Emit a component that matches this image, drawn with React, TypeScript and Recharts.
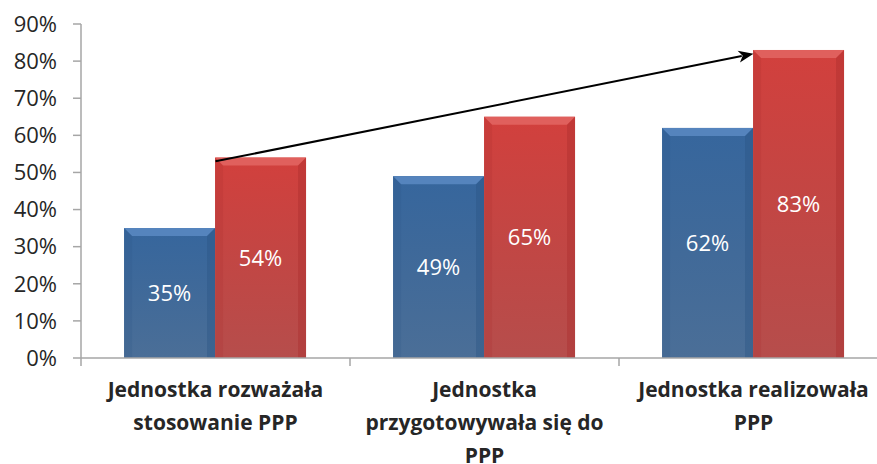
import React from "react";
import {
  BarChart,
  Bar,
  XAxis,
  YAxis,
  LabelList,
  ReferenceLine,
} from "recharts";

// categories (line breaks as in the original)
const categories = [
  "Jednostka rozważała\nstosowanie PPP",
  "Jednostka\nprzygotowywała się do\nPPP",
  "Jednostka realizowała\nPPP",
];
const blueValues = [35, 49, 62];
const redValues = [54, 65, 83];
const yTicks = [0, 10, 20, 30, 40, 50, 60, 70, 80, 90];
// arrow: from the first red bar to the last one (y in %)
const arrowFrom = 53;
const arrowTo = 82;

const data = categories.map((name, i) => ({
  name,
  blue: blueValues[i],
  red: redValues[i],
}));

const CHART_W = 900;
const CHART_H = 464;
const MARGIN = { top: 24, right: 12, left: 0, bottom: 0 };
const Y_W = 81;
const X_H = 106;
const BAND = (CHART_W - MARGIN.left - MARGIN.right - Y_W) / categories.length;
const AXIS = "#a6a6a6";
const FONT = "'Open Sans', sans-serif";

const BevelBar = (color: string, light: string, dark: string, id: string) =>
  (props: any) => {
    const { x, y, width, height } = props;
    if (!height || height <= 0) return null;
    const b = 8;
    return (
      <g>
        <defs>
          <linearGradient id={id} x1="0" y1="0" x2="0" y2="1">
            <stop offset="0%" stopColor={color} />
            <stop offset="100%" stopColor={dark} stopOpacity={0.85} />
          </linearGradient>
        </defs>
        <rect x={x} y={y} width={width} height={height} fill={`url(#${id})`} />
        <polygon
          points={`${x},${y} ${x + width},${y} ${x + width - b},${y + b} ${x + b},${y + b}`}
          fill={light}
        />
        <polygon
          points={`${x + width},${y} ${x + width},${y + height} ${x + width - b},${y + height} ${x + width - b},${y + b}`}
          fill={dark}
          opacity={0.4}
        />
        <polygon
          points={`${x},${y} ${x + b},${y + b} ${x + b},${y + height} ${x},${y + height}`}
          fill={dark}
          opacity={0.2}
        />
      </g>
    );
  };

const blueShape = BevelBar("#36669d", "#5584bd", "#2b5585", "gBlue");
const redShape = BevelBar("#d2403d", "#e0605d", "#a92e2c", "gRed");

const CategoryTick = (props: any) => {
  const { x, y, payload, index } = props;
  const lines = String(payload.value).split("\n");
  return (
    <g>
      <line x1={x - BAND / 2} y1={y} x2={x - BAND / 2} y2={y + 8} stroke={AXIS} strokeWidth={1.5} />
      {index === categories.length - 1 && (
        <line x1={x + BAND / 2} y1={y} x2={x + BAND / 2} y2={y + 8} stroke={AXIS} strokeWidth={1.5} />
      )}
      <text
        x={x}
        y={y + 39}
        textAnchor="middle"
        fill="#262626"
        fontSize={21}
        fontWeight="bold"
        fontFamily={FONT}
      >
        {lines.map((l, i) => (
          <tspan key={i} x={x} dy={i === 0 ? 0 : 33}>
            {l}
          </tspan>
        ))}
      </text>
    </g>
  );
};

const Arrow = (props: any) => {
  const { x1, y1, x2, y2 } = props;
  const ang = Math.atan2(y2 - y1, x2 - x1);
  const len = 15;
  const half = 6;
  const bx = x2 - len * Math.cos(ang);
  const by = y2 - len * Math.sin(ang);
  const px = -Math.sin(ang) * half;
  const py = Math.cos(ang) * half;
  return (
    <g>
      <line x1={x1} y1={y1} x2={bx + 3 * Math.cos(ang)} y2={by + 3 * Math.sin(ang)} stroke="#000" strokeWidth={2} />
      <polygon
        points={`${x2},${y2} ${bx + px},${by + py} ${bx + 4 * Math.cos(ang)},${by + 4 * Math.sin(ang)} ${bx - px},${by - py}`}
        fill="#000"
      />
    </g>
  );
};

const App: React.FC = () => {
  return (
    <div
      style={{
        position: "absolute",
        top: 0,
        left: 0,
        width: 877,
        height: 464,
        overflow: "hidden",
        background: "#fff",
      }}
    >
      <BarChart
        width={CHART_W}
        height={CHART_H}
        data={data}
        margin={MARGIN}
        barCategoryGap="16%"
        barGap={0}
      >
        <XAxis
          dataKey="name"
          height={X_H}
          axisLine={{ stroke: AXIS, strokeWidth: 1.5 }}
          tickLine={false}
          tickSize={0}
          tickMargin={0}
          interval={0}
          tick={<CategoryTick />}
        />
        <YAxis
          width={Y_W}
          domain={[0, 90]}
          ticks={yTicks}
          interval={0}
          tickFormatter={(v: number) => `${v}%`}
          axisLine={{ stroke: AXIS, strokeWidth: 1.5 }}
          tickLine={{ stroke: AXIS, strokeWidth: 1.5 }}
          tickSize={8}
          tickMargin={16}
          tick={{ fill: "#262626", fontSize: 22, fontFamily: FONT }}
        />
        <Bar dataKey="blue" shape={blueShape} isAnimationActive={false}>
          <LabelList
            dataKey="blue"
            position="center"
            formatter={(v: any) => `${v}%`}
            fill="#fff"
            fontSize={22}
            fontFamily={FONT}
          />
        </Bar>
        <Bar dataKey="red" shape={redShape} isAnimationActive={false}>
          <LabelList
            dataKey="red"
            position="center"
            formatter={(v: any) => `${v}%`}
            fill="#fff"
            fontSize={22}
            fontFamily={FONT}
          />
        </Bar>
        <ReferenceLine
          segment={[
            { x: categories[0], y: arrowFrom },
            { x: categories[2], y: arrowTo },
          ]}
          shape={<Arrow />}
          ifOverflow="visible"
        />
      </BarChart>
    </div>
  );
};

export default App;
